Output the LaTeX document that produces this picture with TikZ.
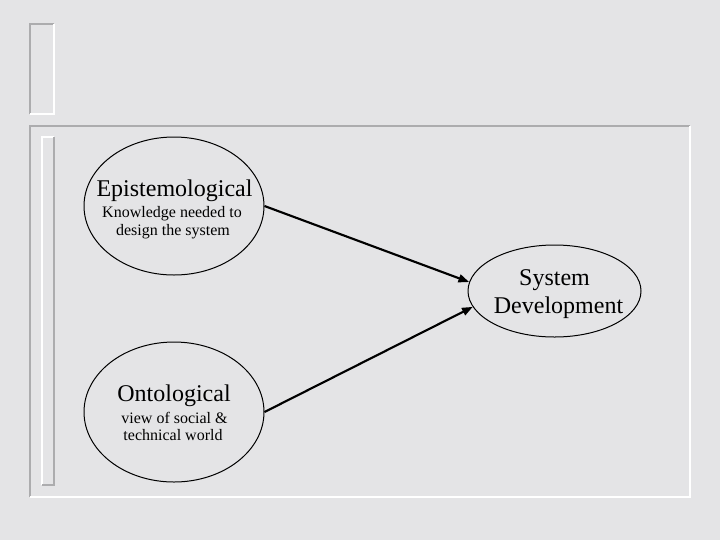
\documentclass[tikz,border=0pt]{standalone}
\usepackage{fontspec}
\setmainfont{Liberation Serif}
\usetikzlibrary{shapes.geometric,arrows.meta}
\definecolor{marble}{RGB}{228,228,230}
\definecolor{bevelgray}{RGB}{172,172,174}
\tikzset{
  bubble/.style={ellipse, draw=black, line width=0.75pt, inner sep=0pt},
  bigtxt/.style={anchor=base, inner sep=0pt, font=\fontsize{18}{20}\selectfont},
  smalltxt/.style={anchor=base, inner sep=0pt, font=\fontsize{12}{14}\selectfont},
  link/.style={line width=1.6pt, -{Triangle[length=8pt,width=6pt]}},
  shade/.style={draw=bevelgray, line width=1.6pt},
  light/.style={draw=white, line width=1.6pt}
}
\begin{document}
\begin{tikzpicture}[x=0.75pt,y=-0.75pt]
\fill[marble] (0,0) rectangle (720,540);
\useasboundingbox (0,0) rectangle (720,540);
% decorative bevelled frames
\draw[shade] (30,114) -- (30,24) -- (54,24);
\draw[light] (54,24) -- (54,114) -- (30,114);
\draw[shade] (30,497) -- (30,126) -- (690,126);
\draw[light] (690,126) -- (690,497) -- (30,497);
\draw[light] (42,485) -- (42,137) -- (54,137);
\draw[shade] (54,137) -- (54,485) -- (42,485);
% ellipses
\node[bubble, minimum width=135pt, minimum height=103.5pt] (epi) at (174,206) {};
\node[bubble, minimum width=135pt, minimum height=105pt] (ont) at (174,412) {};
\node[bubble, minimum width=129.75pt, minimum height=69pt] (sys) at (554.5,291) {};
% texts
\node[bigtxt] (epiT) at (174.5,196) {Epistemological};
\node[smalltxt] (epiA) at (172,217) {Knowledge needed to};
\node[smalltxt] (epiB) at (173,235) {design the system};
\node[bigtxt] (ontT) at (174,401) {Ontological};
\node[smalltxt] (ontA) at (174.5,423) {view of social \&};
\node[smalltxt] (ontB) at (173,440) {technical world};
\node[bigtxt] (sysA) at (554.5,285) {System};
\node[bigtxt] (sysB) at (558.5,313) {Development};
% connectors
\draw[link] (epi.east) -- (sys.174);
\draw[link] (ont.east) -- (sys.191);
\end{tikzpicture}
\end{document}
